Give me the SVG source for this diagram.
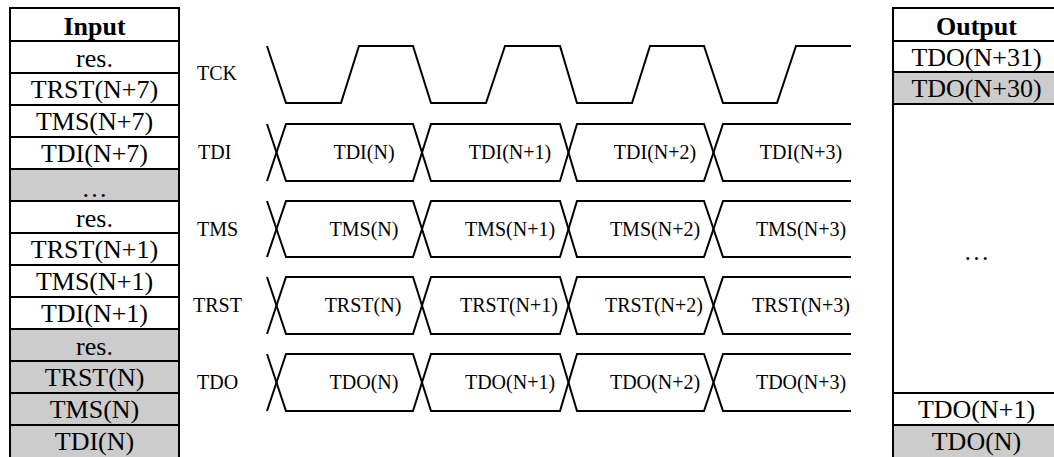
<svg xmlns="http://www.w3.org/2000/svg" width="1054" height="457" viewBox="0 0 1054 457">
<style>
.bg{fill:#ffffff}
.cell{fill:#ffffff;stroke:#000;stroke-width:2}
.gray{fill:#cccccc;stroke:#000;stroke-width:2}
.t{font-family:"Liberation Serif","Times New Roman",serif;font-size:26px;fill:#000;text-anchor:middle}
.h{font-family:"Liberation Serif","Times New Roman",serif;font-size:26px;font-weight:bold;fill:#000;text-anchor:middle}
.lbl{font-family:"Liberation Serif","Times New Roman",serif;font-size:20px;fill:#000}
.wt{font-family:"Liberation Serif","Times New Roman",serif;font-size:20px;fill:#000;text-anchor:middle}
.w{fill:none;stroke:#000;stroke-width:2;stroke-linejoin:miter}
</style>
<rect class="bg" x="0" y="0" width="1054" height="457"/>

<g id="input-table">
  <g id="in-header"><rect class="cell" x="10" y="8" width="169" height="33"/><text class="h" x="94.5" y="35">Input</text></g>
  <g id="in-r1"><rect class="cell" x="10" y="41" width="169" height="32"/><text class="t" x="94.5" y="67">res.</text></g>
  <g id="in-r2"><rect class="cell" x="10" y="73" width="169" height="32"/><text class="t" x="94.5" y="98">TRST(N+7)</text></g>
  <g id="in-r3"><rect class="cell" x="10" y="105" width="169" height="32"/><text class="t" x="94.5" y="130">TMS(N+7)</text></g>
  <g id="in-r4"><rect class="cell" x="10" y="137" width="169" height="32"/><text class="t" x="94.5" y="162">TDI(N+7)</text></g>
  <g id="in-r5"><rect class="gray" x="10" y="169" width="169" height="32"/><text class="t" x="94.5" y="197">…</text></g>
  <g id="in-r6"><rect class="cell" x="10" y="201" width="169" height="32"/><text class="t" x="94.5" y="227">res.</text></g>
  <g id="in-r7"><rect class="cell" x="10" y="233" width="169" height="32"/><text class="t" x="94.5" y="258">TRST(N+1)</text></g>
  <g id="in-r8"><rect class="cell" x="10" y="265" width="169" height="32"/><text class="t" x="94.5" y="290">TMS(N+1)</text></g>
  <g id="in-r9"><rect class="cell" x="10" y="297" width="169" height="32"/><text class="t" x="94.5" y="322">TDI(N+1)</text></g>
  <g id="in-r10"><rect class="gray" x="10" y="329" width="169" height="32"/><text class="t" x="94.5" y="355">res.</text></g>
  <g id="in-r11"><rect class="gray" x="10" y="361" width="169" height="32"/><text class="t" x="94.5" y="386">TRST(N)</text></g>
  <g id="in-r12"><rect class="gray" x="10" y="393" width="169" height="32"/><text class="t" x="94.5" y="418">TMS(N)</text></g>
  <g id="in-r13"><rect class="gray" x="10" y="425" width="169" height="34"/><text class="t" x="94.5" y="450">TDI(N)</text></g>
</g>

<g id="output-table">
  <g id="out-header"><rect class="cell" x="893" y="8" width="167" height="33"/><text class="h" x="976.5" y="35">Output</text></g>
  <g id="out-r1"><rect class="cell" x="893" y="41" width="167" height="31"/><text class="t" x="976.5" y="66">TDO(N+31)</text></g>
  <g id="out-r2"><rect class="gray" x="893" y="72" width="167" height="32"/><text class="t" x="976.5" y="97">TDO(N+30)</text></g>
  <g id="out-r3"><rect class="cell" x="893" y="104" width="167" height="289"/><text class="t" x="976.5" y="260">…</text></g>
  <g id="out-r4"><rect class="cell" x="893" y="393" width="167" height="32"/><text class="t" x="976.5" y="418">TDO(N+1)</text></g>
  <g id="out-r5"><rect class="gray" x="893" y="425" width="167" height="34"/><text class="t" x="976.5" y="450">TDO(N)</text></g>
</g>

<g id="sig-tck">
  <text class="lbl" x="197" y="80">TCK</text>
  <polyline class="w" points="267,46 286,103 341,103 359,46 413,46 431,103 486,103 505,46 560,46 577,103 632,103 650,46 704,46 723,103 777,103 796,46 851,46"/>
</g>

<g id="sig-tdi">
  <text class="lbl" x="198" y="159">TDI</text>
  <polyline class="w" points="267,124 286,181 413,181 431,124 560,124 577,181 704,181 723,124 851,124"/>
  <polyline class="w" points="267,181 286,124 413,124 431,181 560,181 577,124 704,124 723,181 851,181"/>
  <text class="wt" x="364" y="159">TDI(N)</text>
  <text class="wt" x="510" y="159">TDI(N+1)</text>
  <text class="wt" x="655" y="159">TDI(N+2)</text>
  <text class="wt" x="801" y="159">TDI(N+3)</text>
</g>

<g id="sig-tms">
  <text class="lbl" x="197" y="236">TMS</text>
  <polyline class="w" points="267,201 286,257 413,257 431,201 560,201 577,257 704,257 723,201 851,201"/>
  <polyline class="w" points="267,257 286,201 413,201 431,257 560,257 577,201 704,201 723,257 851,257"/>
  <text class="wt" x="364" y="236">TMS(N)</text>
  <text class="wt" x="510" y="236">TMS(N+1)</text>
  <text class="wt" x="655" y="236">TMS(N+2)</text>
  <text class="wt" x="801" y="236">TMS(N+3)</text>
</g>

<g id="sig-trst">
  <text class="lbl" x="193" y="312">TRST</text>
  <polyline class="w" points="267,277 286,334 413,334 431,277 560,277 577,334 704,334 723,277 851,277"/>
  <polyline class="w" points="267,334 286,277 413,277 431,334 560,334 577,277 704,277 723,334 851,334"/>
  <text class="wt" x="363" y="312">TRST(N)</text>
  <text class="wt" x="509" y="312">TRST(N+1)</text>
  <text class="wt" x="654" y="312">TRST(N+2)</text>
  <text class="wt" x="801" y="312">TRST(N+3)</text>
</g>

<g id="sig-tdo">
  <text class="lbl" x="197" y="389">TDO</text>
  <polyline class="w" points="267,354 286,411 413,411 431,354 560,354 577,411 704,411 723,354 851,354"/>
  <polyline class="w" points="267,411 286,354 413,354 431,411 560,411 577,354 704,354 723,411 851,411"/>
  <text class="wt" x="364" y="389">TDO(N)</text>
  <text class="wt" x="510" y="389">TDO(N+1)</text>
  <text class="wt" x="655" y="389">TDO(N+2)</text>
  <text class="wt" x="801" y="389">TDO(N+3)</text>
</g>
</svg>
